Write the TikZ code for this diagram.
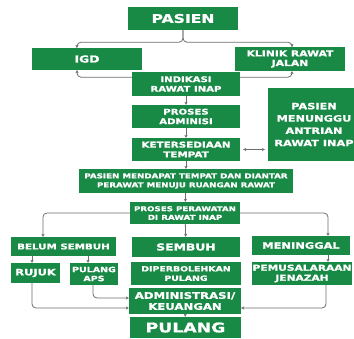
\documentclass[tikz,border=0pt]{standalone}
\usepackage{fontspec}
\newfontfamily\hf{DejaVu Sans}[FakeStretch=1.3, BoldFeatures={FakeBold=1.2}]
\usetikzlibrary{arrows.meta,backgrounds,calc}
\definecolor{gr}{HTML}{188A46}
\definecolor{ln}{HTML}{6E6E6E}
\tikzset{
  box/.style={fill=gr, text=white, inner sep=0pt, align=center},
  fs/.style 2 args={font=\hf\bfseries\fontsize{#1}{#2}\selectfont},
  conn/.style={draw=ln, line width=0.8pt, rounded corners=4pt},
  arr/.style={conn, -{Stealth[length=3pt,width=3.2pt]}},
  darr/.style={conn, {Stealth[length=3pt,width=3.2pt]}-{Stealth[length=3pt,width=3.2pt]}},
}
\begin{document}
\begin{tikzpicture}[x=1pt,y=-1pt]
\useasboundingbox (0,0) rectangle (354,338);
\node[box, fs={12}{14}, minimum width=110pt, minimum height=23pt] (pasien) at (183,18.5) {PASIEN};
\node[box, fs={9.5}{11}, minimum width=110pt, minimum height=22pt] (igd) at (87,59) {IGD};
\node[box, fs={8.3}{9.6}, minimum width=110pt, minimum height=24pt] (klinik) at (290,59) {KLINIK RAWAT\\JALAN};
\node[box, fs={7.8}{9.6}, minimum width=108pt, minimum height=24pt] (indikasi) at (186,84) {INDIKASI\\RAWAT INAP};
\node[box, fs={7.8}{9.6}, minimum width=108pt, minimum height=23pt] (proses) at (186,116.5) {PROSES\\ADMINISI};
\node[box, fs={8}{9.8}, minimum width=108pt, minimum height=23pt] (keter) at (186,149.5) {KETERSEDIAAN\\TEMPAT};
\node[box, fs={8.7}{12.3}, minimum width=92pt, minimum height=73pt] (tunggu) at (314,124.5) {PASIEN\\MENUNGGU\\ANTRIAN\\RAWAT INAP};
\node[box, fs={6.7}{9}, minimum width=214pt, minimum height=24pt] (mendapat) at (186,181) {PASIEN MENDAPAT TEMPAT DAN DIANTAR\\PERAWAT MENUJU RUANGAN RAWAT};
\node[box, fs={6.7}{8.6}, minimum width=110pt, minimum height=22pt] (perawatan) at (185,213) {PROSES PERAWATAN\\DI RAWAT INAP};
\node[box, fs={7.9}{9}, minimum width=105pt, minimum height=19pt] (belum) at (63.5,246.5) {BELUM SEMBUH};
\node[box, fs={9.5}{11}, minimum width=108pt, minimum height=20pt] (sembuh) at (186,247) {SEMBUH};
\node[box, fs={8.8}{10}, minimum width=98pt, minimum height=19pt] (meninggal) at (301,245.5) {MENINGGAL};
\node[box, fs={8.8}{10}, minimum width=49pt, minimum height=20pt] (rujuk) at (35.5,273) {RUJUK};
\node[box, fs={7.3}{9}, minimum width=48pt, minimum height=22pt] (aps) at (94,274) {PULANG\\APS};
\node[box, fs={7.2}{9.4}, minimum width=110pt, minimum height=23pt] (boleh) at (186,273.5) {DIPERBOLEHKAN\\PULANG};
\node[box, fs={8.2}{10}, minimum width=100pt, minimum height=23pt] (jenazah) at (302,273.5) {PEMUSALARAAN\\JENAZAH};
\node[box, fs={9}{11}, minimum width=112pt, minimum height=26pt] (admin) at (185,301) {ADMINISTRASI/\\KEUANGAN};
\node[box, fs={13.3}{15}, minimum width=111pt, minimum height=21pt] (pulang) at (185.5,327.5) {PULANG};
\coordinate (tw) at (keter.east -| tunggu.west);
\begin{scope}[on background layer]
\fill[white] (0,0) rectangle (354,338);
\draw[arr] (pasien.south) -- ++(0,12) -| ([xshift=-10pt]igd.north);
\draw[arr] (pasien.south) -- ++(0,12) -| ([xshift=2pt]klinik.north);
\draw[darr] ([xshift=-10pt]igd.south) -- ++(0,7) -| ([xshift=2pt]klinik.south);
\draw[arr] (indikasi) -- (proses);
\draw[arr] (proses) -- (keter);
\draw[darr] ([xshift=3pt]keter.east) -- ([xshift=-3pt]tw);
\draw[arr] (keter) -- (mendapat);
\draw[arr] (mendapat) -- (perawatan);
\draw[arr] (perawatan) -- (sembuh);
\draw[arr] (perawatan.west) -| ([xshift=-20.5pt]belum.north);
\draw[arr] (perawatan.east) -| ([xshift=27pt]meninggal.north);
\draw[arr] ($(belum.south -| rujuk.north)+(-3.5,0)$) -- ([xshift=-3.5pt]rujuk.north);
\draw[arr] ($(belum.south -| aps.north)+(-6,0)$) -- ([xshift=-6pt]aps.north);
\draw[arr] ([xshift=27pt]meninggal.south) -- ([xshift=26pt]jenazah.north);
\draw[arr] ([xshift=-3.5pt]rujuk.south) |- ([yshift=-7pt]admin.west);
\draw[arr] ([xshift=-1pt]aps.south) |- ([yshift=3pt]admin.west);
\draw[arr] ([xshift=24pt]jenazah.south) |- ([yshift=-7pt]admin.east);
\draw[arr] (admin) -- (pulang);
\end{scope}
\end{tikzpicture}
\end{document}
